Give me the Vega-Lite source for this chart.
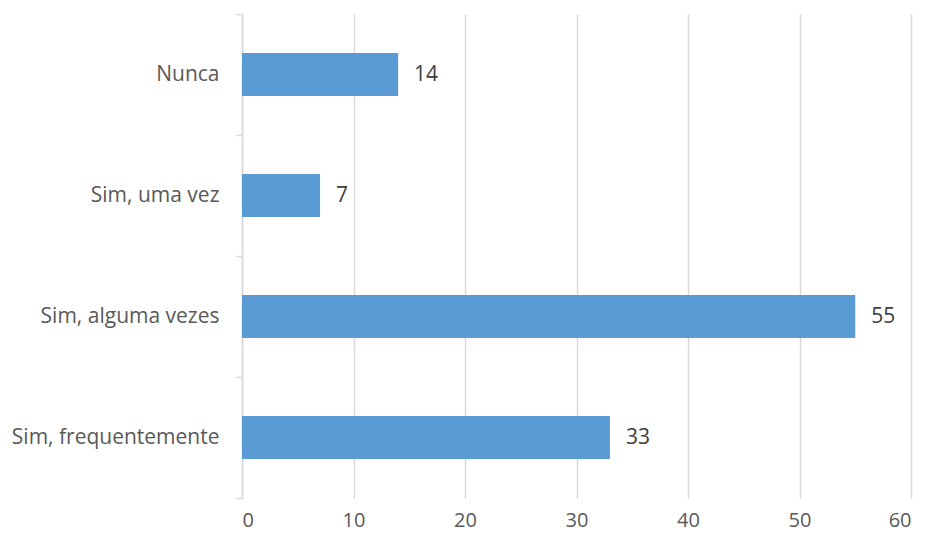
{
  "$schema": "https://vega.github.io/schema/vega-lite/v6.json",
  "width": 669,
  "height": 484,
  "autosize": {"type": "none"},
  "padding": {"left": 242, "top": 14, "right": 14, "bottom": 39},
  "background": "white",
  "config": {"view": {"stroke": null}, "font": "Open Sans"},
  "data": {"values": [
    {"cat": "Nunca", "v": 14},
    {"cat": "Sim, uma vez", "v": 7},
    {"cat": "Sim, alguma vezes", "v": 55},
    {"cat": "Sim, frequentemente", "v": 33}
  ]},
  "encoding": {
    "y": {"field": "cat", "type": "nominal", "sort": null,
      "scale": {"paddingInner": 0, "paddingOuter": 0},
      "axis": {"title": null, "tickBand": "extent", "domainColor": "#D9D9D9", "domainWidth": 1.5, "tickColor": "#D9D9D9", "tickWidth": 1.5, "tickSize": 6, "labelPadding": 17, "labelFontSize": 21, "labelLimit": 400, "labelColor": "#595959", "labelFont": "Open Sans"}},
    "x": {"field": "v", "type": "quantitative",
      "scale": {"domain": [0, 60], "nice": false},
      "axis": {"title": null, "values": [0,10,20,30,40,50,60], "domain": false, "ticks": false, "grid": true, "gridColor": "#D9D9D9", "gridWidth": 1.5, "labelPadding": 12, "labelFontSize": 20, "labelColor": "#595959", "labelFont": "Open Sans"}}
  },
  "layer": [
    {"mark": {"type": "bar", "color": "#5B9BD5", "height": {"band": 0.355}}},
    {"mark": {"type": "text", "align": "left", "dx": 16, "fontSize": 21, "color": "#404040", "font": "Open Sans"},
     "encoding": {"text": {"field": "v", "type": "quantitative"}}}
  ]
}
